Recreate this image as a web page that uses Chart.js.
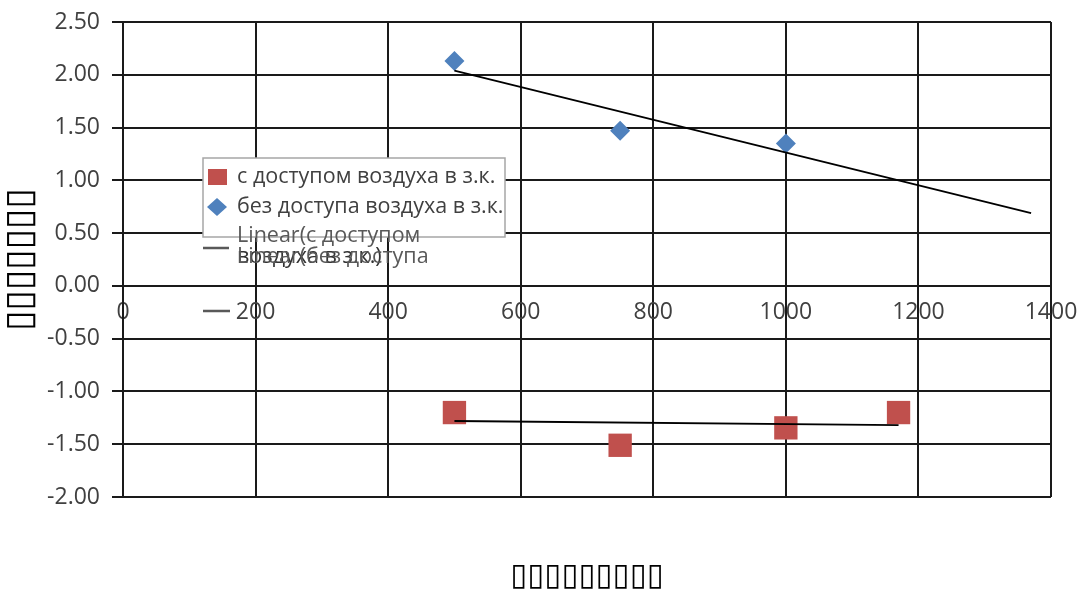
<!DOCTYPE html>
<html>
<head>
<meta charset="utf-8">
<script src="https://cdn.jsdelivr.net/npm/chart.js@4.4.1/dist/chart.umd.min.js"></script>
<style>
    html, body { margin: 0; padding: 0; background: #fff; }
    #chart { display: block; }
</style>
</head>
<body>
<canvas id="chart" width="1078" height="590"></canvas>
<script>
// values
const withAirX = [500, 750, 1000, 1170];
const withAirY = [-1.20, -1.51, -1.345, -1.20];
const noAirX = [500, 750, 1000];
const noAirY = [2.13, 1.47, 1.35];

// trend lines (end points as drawn)
const trendWithAirX = [500, 1170];
const trendWithAirY = [-1.28, -1.32];
const trendNoAirX = [500, 1370];
const trendNoAirY = [2.04, 0.69];

const seriesNames = ['с доступом воздуха в з.к.', 'без доступа воздуха в з.к.'];
const trendNames = ['Linear(с доступом', 'воздуха в з.к.)', 'Linear(без доступа'];
const xTitle = '▯▯▯▯▯▯▯▯▯';
const yTitle = '▯▯▯▯▯▯▯';

const RED = '#C0504D';
const BLUE = '#4F81BD';
const GRID = '#1a1a1a';
const TEXT = '#404040';
const FONT = "'Open Sans', sans-serif";

const toPoints = (xs, ys) => xs.map((x, i) => ({ x: x, y: ys[i] }));

// legend box and axis titles, drawn over the plot like the original
const overlayPlugin = {
    id: 'overlay',
    afterDraw(chart) {
        const ctx = chart.ctx;
        const area = chart.chartArea;
        ctx.save();

        // axis titles
        ctx.fillStyle = '#000';
        ctx.textAlign = 'center';
        ctx.textBaseline = 'middle';
        ctx.font = "31px 'DejaVu Sans'";
        ctx.fillText(xTitle, (area.left + area.right) / 2, 577);
        ctx.save();
        ctx.translate(21, (area.top + area.bottom) / 2);
        ctx.rotate(-Math.PI / 2);
        ctx.font = "37px 'DejaVu Sans'";
        ctx.fillText(yTitle, 0, 0);
        ctx.restore();

        // legend
        ctx.fillStyle = '#fff';
        ctx.fillRect(203, 158, 302, 79);
        ctx.strokeStyle = '#a6a6a6';
        ctx.lineWidth = 1.5;
        ctx.strokeRect(203, 158, 302, 79);

        ctx.fillStyle = RED;
        ctx.fillRect(208, 169, 19, 16);
        ctx.fillStyle = BLUE;
        ctx.beginPath();
        ctx.moveTo(217, 198);
        ctx.lineTo(227, 207);
        ctx.lineTo(217, 216);
        ctx.lineTo(207, 207);
        ctx.closePath();
        ctx.fill();

        ctx.font = '21.5px ' + FONT;
        ctx.textAlign = 'left';
        ctx.fillStyle = TEXT;
        ctx.fillText(seriesNames[0], 237, 177);
        ctx.fillText(seriesNames[1], 237, 207);

        ctx.fillStyle = '#595959';
        ctx.fillText(trendNames[0], 237, 236);
        ctx.fillStyle = '#333';
        ctx.fillText(trendNames[1], 237, 257);
        ctx.fillStyle = '#595959';
        ctx.fillText(trendNames[2], 237, 257);

        ctx.strokeStyle = '#595959';
        ctx.lineWidth = 2.5;
        ctx.beginPath();
        ctx.moveTo(203, 248);
        ctx.lineTo(229, 248);
        ctx.moveTo(203, 311);
        ctx.lineTo(230, 311);
        ctx.stroke();

        ctx.restore();
    }
};

new Chart(document.getElementById('chart'), {
    type: 'scatter',
    data: {
        datasets: [{
            label: trendNames[0],
            data: toPoints(trendWithAirX, trendWithAirY),
            showLine: true,
            borderColor: '#000',
            borderWidth: 1.8,
            pointRadius: 0
        }, {
            label: trendNames[2],
            data: toPoints(trendNoAirX, trendNoAirY),
            showLine: true,
            borderColor: '#000',
            borderWidth: 1.8,
            pointRadius: 0
        }, {
            label: seriesNames[0],
            data: toPoints(withAirX, withAirY),
            pointStyle: 'rect',
            pointRadius: 16.5,
            backgroundColor: RED,
            borderWidth: 0
        }, {
            label: seriesNames[1],
            data: toPoints(noAirX, noAirY),
            pointStyle: 'rectRot',
            pointRadius: 10,
            backgroundColor: BLUE,
            borderWidth: 0
        }]
    },
    options: {
        responsive: false,
        animation: false,
        layout: { padding: { left: 0, top: 22, right: 27, bottom: 93 } },
        plugins: {
            legend: { display: false },
            tooltip: { enabled: false }
        },
        scales: {
            x: {
                type: 'linear',
                position: { y: 0 },
                min: 0,
                max: 1400,
                afterFit(scale) {
                    scale.paddingLeft = 0;
                    scale.paddingRight = 0;
                },
                ticks: {
                    stepSize: 200,
                    color: TEXT,
                    font: { family: FONT, size: 23 },
                    padding: 5,
                    maxRotation: 0,
                    callback: v => String(v)
                },
                grid: { color: GRID, lineWidth: 2, tickLength: 8 },
                border: { color: GRID, width: 2 }
            },
            y: {
                type: 'linear',
                min: -2,
                max: 2.5,
                afterFit(scale) {
                    scale.width = 123;
                    scale.paddingTop = 0;
                    scale.paddingBottom = 0;
                },
                ticks: {
                    stepSize: 0.5,
                    color: TEXT,
                    font: { family: FONT, size: 23 },
                    padding: 12,
                    callback: v => v.toFixed(2)
                },
                grid: { color: GRID, lineWidth: 2, tickLength: 11 },
                border: { color: GRID, width: 2 }
            }
        }
    },
    plugins: [overlayPlugin]
});
</script>
</body>
</html>
